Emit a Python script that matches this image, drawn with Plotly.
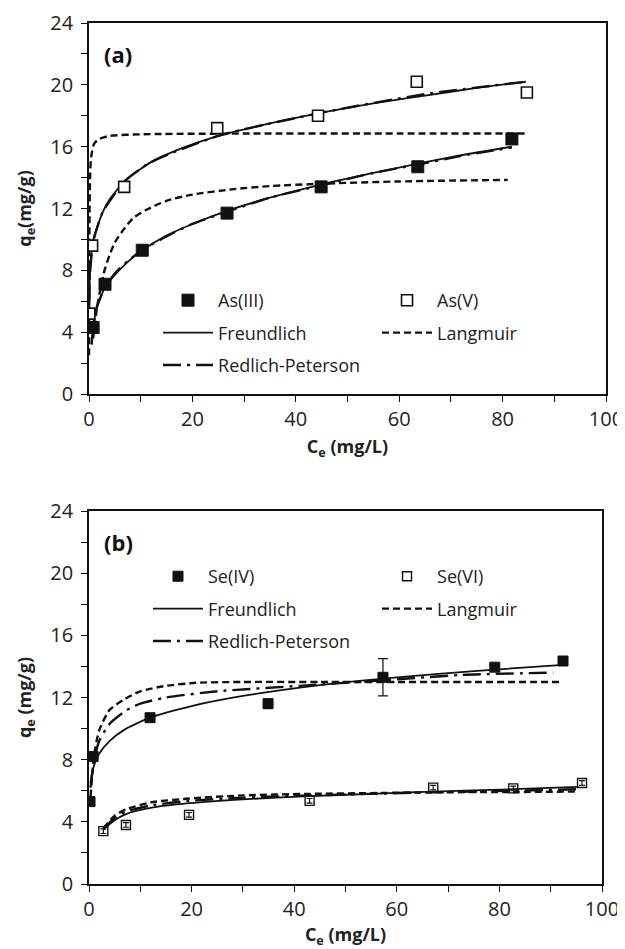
import plotly.graph_objects as go

# ---------------- Panel (a) data ----------------
as3_c = [0.8, 3.1, 10.3, 26.7, 44.9, 63.6, 81.8]
as3_q = [4.3, 7.1, 9.3, 11.7, 13.4, 14.7, 16.5]
as5_c = [0.05, 0.6, 6.8, 24.8, 44.3, 63.4, 84.7]
as5_q = [5.2, 9.6, 13.4, 17.2, 18.0, 20.2, 19.5]

as5_fr_c = [0.02, 0.1, 0.5, 1, 2.7, 4, 7, 12, 18, 25, 35, 45, 55, 65, 75, 84.5]
as5_fr_q = [5.5, 7.1, 9.2, 10.2, 11.8, 12.6, 13.8, 15.0, 15.9, 16.7, 17.5, 18.2, 18.8, 19.3, 19.8, 20.2]
as5_la_c = [0.01, 0.03, 0.06, 0.1, 0.2, 0.4, 1, 2, 4, 10, 30, 60, 84.5]
as5_la_q = [2.5, 6.3, 9.5, 11.5, 13.9, 15.3, 16.2, 16.5, 16.7, 16.8, 16.85, 16.85, 16.85]
as5_rp_c = [0.05, 0.2, 0.5, 1, 2.7, 7, 12, 25, 45, 65, 84.5]
as5_rp_q = [5.8, 7.8, 9.0, 10.1, 11.8, 13.8, 15.0, 16.7, 18.2, 19.4, 20.2]

as3_fr_c = [0.8, 1.5, 3.1, 5, 7.5, 10.3, 15, 20, 26.7, 35, 44.9, 55, 63.6, 72, 81.8]
as3_fr_q = [4.6, 5.6, 6.9, 7.7, 8.55, 9.3, 10.25, 11.0, 11.85, 12.7, 13.55, 14.3, 14.9, 15.45, 16.0]
as3_la_c = [0.8, 1.5, 2.1, 3, 4, 5, 6.6, 8.6, 11, 15, 20, 28, 35, 44.7, 60, 81]
as3_la_q = [3.6, 5.5, 6.6, 8.0, 9.0, 9.8, 10.6, 11.4, 11.9, 12.5, 12.9, 13.25, 13.45, 13.6, 13.75, 13.85]
as3_rp_c = [0.5, 0.8, 1.5, 3.1, 5, 7.5, 10.3, 15, 20, 26.7, 35, 44.9, 55, 63.6, 72, 81.8]
as3_rp_q = [3.2, 4.3, 5.6, 6.9, 7.8, 8.6, 9.3, 10.2, 11.0, 11.8, 12.7, 13.5, 14.3, 14.85, 15.4, 15.95]

# ---------------- Panel (b) data ----------------
se4_c = [0.2, 0.8, 11.9, 34.9, 57.3, 79.1, 92.4]
se4_q = [5.3, 8.2, 10.7, 11.6, 13.3, 13.95, 14.35]
se4_err = [0.15, 0.15, 0.15, 0.3, 1.2, 0.15, 0.15]
se6_c = [2.8, 7.2, 19.5, 43.0, 67.1, 82.7, 96.1]
se6_q = [3.4, 3.8, 4.45, 5.35, 6.2, 6.15, 6.5]
se6_err = [0.15, 0.15, 0.15, 0.15, 0.15, 0.15, 0.15]

se4_fr_c = [0.3, 0.5, 1, 2, 4, 7, 11.9, 20, 30, 45, 60, 75, 92.4]
se4_fr_q = [6.5, 7.0, 7.65, 8.4, 9.2, 9.95, 10.7, 11.45, 12.1, 12.8, 13.3, 13.7, 14.1]
se4_la_c = [0.3, 1, 2, 4, 7, 10, 15, 21, 30, 45, 60, 75, 92.4]
se4_la_q = [5.6, 8.3, 9.9, 11.2, 11.9, 12.4, 12.75, 12.95, 13.0, 13.0, 13.0, 13.0, 13.0]
se4_rp_c = [0.3, 1, 2, 4, 7.4, 10, 15, 25, 41, 57, 72.5, 90.5]
se4_rp_q = [6.2, 8.0, 9.2, 10.3, 11.2, 11.6, 12.0, 12.4, 12.75, 13.1, 13.45, 13.6]

se6_curve_c = [2.8, 5, 7.2, 12, 19.5, 30, 43, 55, 67, 82.7, 95.4]
se6_fr_q = [3.5, 4.1, 4.5, 4.9, 5.2, 5.45, 5.65, 5.8, 5.95, 6.1, 6.25]
se6_la_q = [3.6, 4.4, 4.8, 5.25, 5.5, 5.7, 5.8, 5.85, 5.9, 5.92, 5.95]
se6_rp_q = [3.55, 4.25, 4.65, 5.05, 5.35, 5.55, 5.7, 5.8, 5.9, 6.0, 6.1]

x_ticks = [0, 20, 40, 60, 80, 100]
y_ticks = [0, 4, 8, 12, 16, 20, 24]

FONT = "Open Sans"
BLACK = "#111111"
TXT = "#222222"
FR = dict(color=BLACK, width=1.8)
LA = dict(color=BLACK, width=2.4, dash="7px,4px")
RP = dict(color=BLACK, width=2.4, dash="18px,6px,3px,6px")

fig = go.Figure()


def curve(x, y, line, name, xa, ya, legend, show, group, rank):
    fig.add_trace(go.Scatter(
        x=x, y=y, mode="lines", line=dict(shape="spline", smoothing=0.6, **line),
        name=name, xaxis=xa, yaxis=ya, legend=legend, showlegend=show,
        legendgroup=group, legendrank=rank, hoverinfo="skip"))


# Panel (a) curves
curve(as5_rp_c, as5_rp_q, RP, "Redlich-Peterson", "x", "y", "legend", True, "a_rp", 3)
curve(as3_rp_c, as3_rp_q, RP, "Redlich-Peterson", "x", "y", "legend", False, "a_rp", 3)
curve(as5_la_c, as5_la_q, LA, "Langmuir", "x", "y", "legend2", True, "a_la", 2)
curve(as3_la_c, as3_la_q, LA, "Langmuir", "x", "y", "legend2", False, "a_la", 2)
curve(as5_fr_c, as5_fr_q, FR, "Freundlich", "x", "y", "legend", True, "a_fr", 2)
curve(as3_fr_c, as3_fr_q, FR, "Freundlich", "x", "y", "legend", False, "a_fr", 2)

fig.add_trace(go.Scatter(
    x=as3_c, y=as3_q, mode="markers", name="As(III)", xaxis="x", yaxis="y",
    legend="legend", legendgroup="a_3", legendrank=1,
    marker=dict(symbol="square", size=12, color=BLACK, line=dict(color=BLACK, width=1))))
fig.add_trace(go.Scatter(
    x=as5_c, y=as5_q, mode="markers", name="As(V)", xaxis="x", yaxis="y",
    legend="legend2", legendgroup="a_5", legendrank=1,
    marker=dict(symbol="square", size=11, color="white", line=dict(color=BLACK, width=1.6))))

# Panel (b) curves
curve(se4_rp_c, se4_rp_q, RP, "Redlich-Peterson", "x2", "y2", "legend3", True, "b_rp", 3)
curve(se6_curve_c, se6_rp_q, RP, "Redlich-Peterson", "x2", "y2", "legend3", False, "b_rp", 3)
curve(se4_la_c, se4_la_q, LA, "Langmuir", "x2", "y2", "legend4", True, "b_la", 2)
curve(se6_curve_c, se6_la_q, LA, "Langmuir", "x2", "y2", "legend4", False, "b_la", 2)
curve(se4_fr_c, se4_fr_q, FR, "Freundlich", "x2", "y2", "legend3", True, "b_fr", 2)
curve(se6_curve_c, se6_fr_q, FR, "Freundlich", "x2", "y2", "legend3", False, "b_fr", 2)

fig.add_trace(go.Scatter(
    x=se4_c, y=se4_q, mode="markers", name="Se(IV)", xaxis="x2", yaxis="y2",
    legend="legend3", legendgroup="b_4", legendrank=1,
    error_y=dict(type="data", array=se4_err, color=BLACK, thickness=1.2, width=5),
    marker=dict(symbol="square", size=10, color=BLACK, line=dict(color=BLACK, width=1))))
fig.add_trace(go.Scatter(
    x=se6_c, y=se6_q, mode="markers", name="Se(VI)", xaxis="x2", yaxis="y2",
    legend="legend4", legendgroup="b_6", legendrank=1,
    error_y=dict(type="data", array=se6_err, color=BLACK, thickness=1.2, width=3),
    marker=dict(symbol="square-open", size=9, color=BLACK, line=dict(color=BLACK, width=1.4))))

axis_common = dict(
    showline=True, linecolor=BLACK, linewidth=1.6, mirror=True,
    ticks="outside", ticklen=6, tickwidth=1.3, tickcolor=BLACK,
    showgrid=False, zeroline=False, automargin=False,
    tickfont=dict(family=FONT, size=20, color=TXT),
)
xminor = dict(dtick=10, ticks="outside", ticklen=6, tickwidth=1.3, tickcolor=BLACK)
yminor = dict(dtick=2, ticks="outside", ticklen=6, tickwidth=1.3, tickcolor=BLACK)

xt = dict(text="<b>C<sub>e</sub> (mg/L)</b>", font=dict(family=FONT, size=18, color=TXT), standoff=10)


def leg(x, y):
    return dict(orientation="v", x=x, y=y, xanchor="left", yanchor="top",
                bgcolor="rgba(0,0,0,0)", borderwidth=0, tracegroupgap=6,
                traceorder="grouped", itemwidth=50,
                font=dict(family=FONT, size=18, color=TXT))


# The page body adds an 8 px offset, so the figure is 8 px smaller than the window.
fig.update_layout(
    width=617, height=941,
    margin=dict(l=81, r=19, t=15, b=65),
    paper_bgcolor="white", plot_bgcolor="white",
    font=dict(family=FONT, color=TXT),
    xaxis=dict(domain=[0, 1], anchor="y", range=[0, 100], tickvals=x_ticks,
               minor=xminor, title=xt, **axis_common),
    yaxis=dict(domain=[0.5691, 1], anchor="x", range=[0, 24], tickvals=y_ticks,
               minor=yminor, ticklabelstandoff=4,
               title=dict(text="<b>q<sub>e</sub>(mg/g)</b>", font=dict(family=FONT, size=18, color=TXT), standoff=14),
               **axis_common),
    xaxis2=dict(domain=[0, 0.9923], anchor="y2", range=[0, 100], tickvals=x_ticks,
                minor=xminor, title=xt, **axis_common),
    yaxis2=dict(domain=[0, 0.4332], anchor="x2", range=[0, 24], tickvals=y_ticks,
                minor=yminor, ticklabelstandoff=4,
                title=dict(text="<b>q<sub>e</sub> (mg/g)</b>", font=dict(family=FONT, size=18, color=TXT), standoff=14),
                **axis_common),
    legend=leg(0.1335, 0.6992),
    legend2=leg(0.5571, 0.6992),
    legend3=leg(0.1141, 0.3786),
    legend4=leg(0.5571, 0.3786),
    annotations=[
        dict(text="<b>(a)</b>", xref="x", yref="y", x=2.5, y=22.0, xanchor="left", yanchor="middle",
             showarrow=False, font=dict(family=FONT, size=22, color=BLACK)),
        dict(text="<b>(b)</b>", xref="x2", yref="y2", x=2.5, y=22.0, xanchor="left", yanchor="middle",
             showarrow=False, font=dict(family=FONT, size=22, color=BLACK)),
    ],
    showlegend=True,
)

fig.write_html("out.html")
